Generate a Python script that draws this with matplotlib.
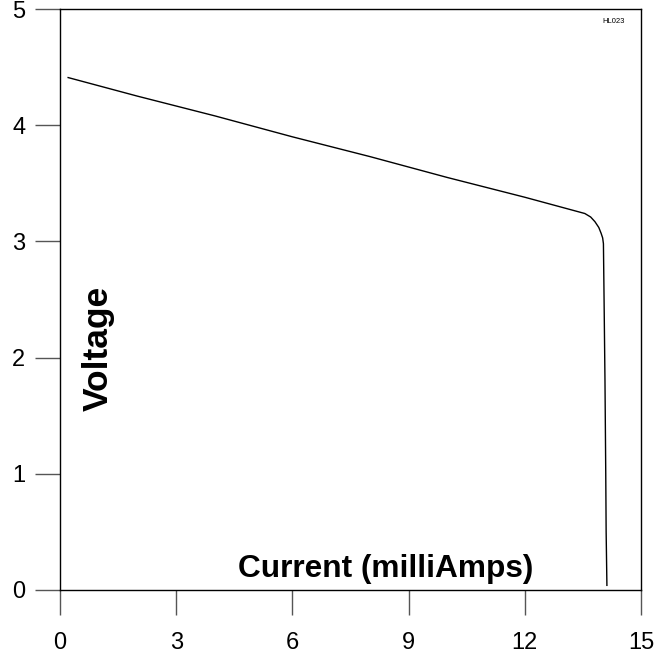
import matplotlib
matplotlib.use("Agg")
import matplotlib.pyplot as plt

current_mA = [0.21, 2.0, 4.0, 6.0, 8.0, 10.0, 12.0, 13.55, 13.70, 13.81, 13.91, 13.97, 14.01, 14.03, 14.05, 14.07, 14.09, 14.10, 14.12]
voltage_V = [4.41, 4.25, 4.08, 3.90, 3.73, 3.55, 3.38, 3.24, 3.21, 3.17, 3.12, 3.07, 3.03, 2.98, 2.4, 1.8, 1.0, 0.5, 0.04]

x_ticks = [0, 3, 6, 9, 12, 15]
y_ticks = [0, 1, 2, 3, 4, 5]

plt.rcParams['font.family'] = ['Liberation Sans', 'DejaVu Sans']

fig = plt.figure(figsize=(6.62, 6.58), dpi=100)
ax = fig.add_axes([60/662, 1 - 590/658, 581/662, 581/658])
ax.plot(current_mA, voltage_V, color='black', linewidth=1.0)
ax.set_xlim(0, 15)
ax.set_ylim(0, 5)
ax.set_xticks(x_ticks)
ax.set_yticks(y_ticks)
ax.tick_params(axis='both', direction='out', length=18, width=1.0, color='#555555', labelsize=17)
ax.tick_params(axis='x', pad=12)
ax.tick_params(axis='y', pad=7)
for s in ax.spines.values():
    s.set_linewidth(1.0)
    s.set_color('black')

ax.text(0.561, 0.022, 'Current (milliAmps)', transform=ax.transAxes, ha='center', va='baseline',
        fontsize=22.8, fontweight='bold')
ax.text(0.065, 0.4165, 'Voltage', transform=ax.transAxes, ha='center', va='center',
        rotation=90, fontsize=25.5, fontweight='bold')
ax.text(0.953, 0.985, 'HL023', transform=ax.transAxes, ha='center', va='top', fontsize=5.5)

fig.savefig('out.png', dpi=100)
